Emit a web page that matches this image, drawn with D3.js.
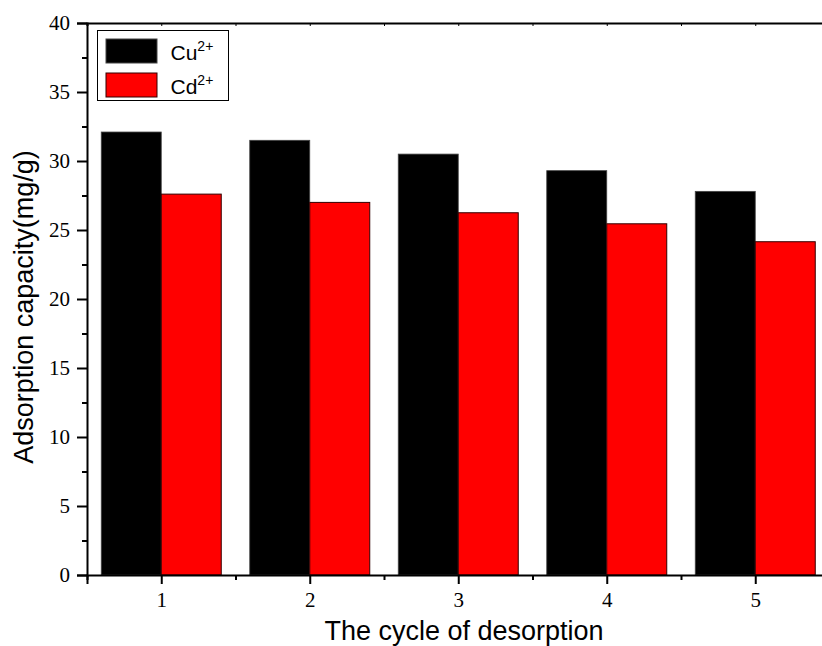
<!DOCTYPE html>
<html>
<head>
<meta charset="utf-8">
<script src="https://cdn.jsdelivr.net/npm/d3@7"></script>
<style>
  body { margin: 0; background: #fff; }
  svg { display: block; }
</style>
</head>
<body>
<div id="chart"></div>
<script>
const cycles = [1, 2, 3, 4, 5];
const cuValues = [32.1, 31.5, 30.5, 29.3, 27.8];
const cdValues = [27.6, 27.0, 26.25, 25.45, 24.15];
const yTicks = [0, 5, 10, 15, 20, 25, 30, 35, 40];

const serif = "Liberation Serif, Times New Roman, serif";
const sans = "Liberation Sans, Arial, sans-serif";

const svg = d3.select("#chart")
    .append("svg")
    .attr("width", 822)
    .attr("height", 646);

// plot area runs off the right edge, like the original export
const x = d3.scaleLinear().domain([0.5, 5.5]).range([87, 829.5]);
const y = d3.scaleLinear().domain([0, 40]).range([575, 23]);
const barW = 60;

const g = svg.append("g");

// Cu bars sit left of the tick, Cd bars right of it
g.selectAll("rect.cu")
    .data(cycles.map((c, i) => ({c, v: cuValues[i]})))
    .join("rect")
    .attr("class", "cu")
    .attr("x", d => x(d.c) - barW)
    .attr("y", d => y(d.v))
    .attr("width", barW)
    .attr("height", d => y(0) - y(d.v))
    .attr("fill", "#000")
    .attr("stroke", "#444")
    .attr("stroke-width", 0.8);

g.selectAll("rect.cd")
    .data(cycles.map((c, i) => ({c, v: cdValues[i]})))
    .join("rect")
    .attr("class", "cd")
    .attr("x", d => x(d.c))
    .attr("y", d => y(d.v))
    .attr("width", barW)
    .attr("height", d => y(0) - y(d.v))
    .attr("fill", "#ff0000")
    .attr("stroke", "#300")
    .attr("stroke-width", 1);

// y axis
const yAxis = g.append("g")
    .attr("transform", `translate(${x(0.5)},0)`)
    .call(d3.axisLeft(y).tickValues(yTicks).tickSize(10).tickPadding(7))
    .attr("font-family", serif)
    .attr("font-size", 21);
yAxis.select(".domain").attr("stroke-width", 2);
yAxis.selectAll(".tick line").attr("stroke-width", 2);
yAxis.selectAll("text").attr("fill", "#000");
// minor y ticks
g.append("g")
    .attr("transform", `translate(${x(0.5)},0)`)
    .call(d3.axisLeft(y).tickValues(d3.range(2.5, 40, 5)).tickSize(5).tickFormat(""))
    .call(a => a.select(".domain").remove())
    .selectAll(".tick line").attr("stroke-width", 2);

// x axis
const xAxis = g.append("g")
    .attr("transform", `translate(0,${y(0)})`)
    .call(d3.axisBottom(x).tickValues(cycles).tickSize(9).tickPadding(8).tickFormat(d3.format("d")))
    .attr("font-family", serif)
    .attr("font-size", 21);
xAxis.select(".domain").attr("stroke-width", 2);
xAxis.selectAll(".tick line").attr("stroke-width", 2);
xAxis.selectAll("text").attr("fill", "#000");
g.append("g")
    .attr("transform", `translate(0,${y(0)})`)
    .call(d3.axisBottom(x).tickValues(d3.range(0.5, 5.6, 1)).tickSize(5).tickFormat(""))
    .call(a => a.select(".domain").remove())
    .selectAll(".tick line").attr("stroke-width", 2);

// top frame line
g.append("g")
    .attr("transform", `translate(0,${y(40)})`)
    .call(d3.axisBottom(x).tickValues(d3.range(0.5, 5.6, 0.5)).tickSize(3).tickFormat(""))
    .call(a => a.select(".domain").attr("stroke-width", 2))
    .selectAll(".tick line").attr("stroke-width", 1);

// axis titles
svg.append("text")
    .attr("x", 464)
    .attr("y", 640)
    .attr("text-anchor", "middle")
    .attr("font-family", sans)
    .attr("font-size", 27)
    .text("The cycle of desorption");

svg.append("text")
    .attr("transform", "translate(33,307) rotate(-90)")
    .attr("text-anchor", "middle")
    .attr("font-family", sans)
    .attr("font-size", 27)
    .text("Adsorption capacity(mg/g)");

// legend
const legendItems = [
    {label: "Cu", color: "#000", stroke: "#444"},
    {label: "Cd", color: "#ff0000", stroke: "#300"}
];
const legend = svg.append("g");
legend.append("rect")
    .attr("x", 97.5).attr("y", 30.5)
    .attr("width", 131).attr("height", 70)
    .attr("fill", "#fff")
    .attr("stroke", "#000")
    .attr("stroke-width", 1);
const li = legend.selectAll("g.item")
    .data(legendItems)
    .join("g")
    .attr("class", "item")
    .attr("transform", (d, i) => `translate(0,${i * 34})`);
li.append("rect")
    .attr("x", 106).attr("y", 39)
    .attr("width", 51).attr("height", 24)
    .attr("fill", d => d.color)
    .attr("stroke", d => d.stroke)
    .attr("stroke-width", 1);
const lt = li.append("text")
    .attr("x", 170.5).attr("y", 60)
    .attr("font-family", sans)
    .attr("font-size", 21);
lt.append("tspan").text(d => d.label);
lt.append("tspan")
    .attr("dy", -9.5)
    .attr("font-size", 14)
    .text("2+");
</script>
</body>
</html>
